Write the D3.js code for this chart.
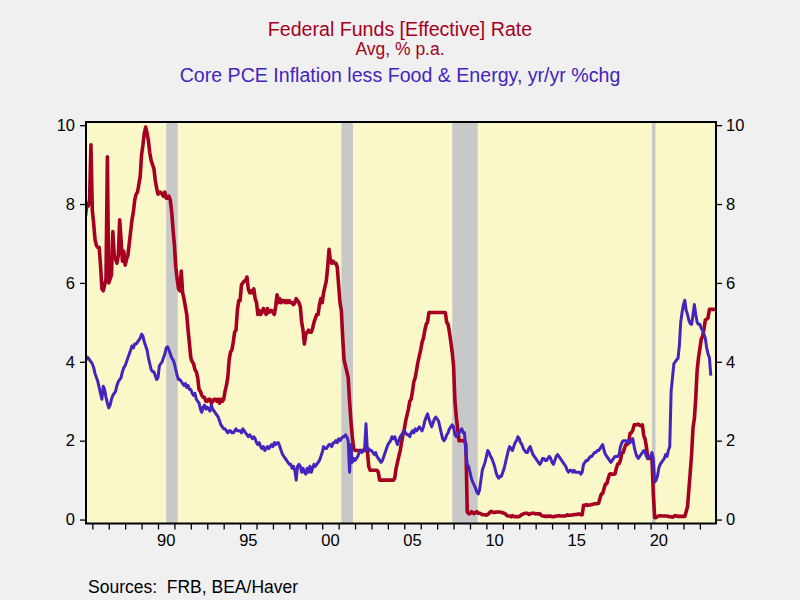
<!DOCTYPE html>
<html><head><meta charset="utf-8">
<script src="https://cdn.jsdelivr.net/npm/d3@7"></script>
<style>body{margin:0;background:#f0f0f0}svg{display:block}</style>
</head><body><svg id="c" width="800" height="600"></svg>
<script>
// Monthly data starting Aug 1985
const startYear = 1985, startMonth = 8;
const ffr = [
 7.7, 8.0, 7.95, 8.1, 9.5,
 7.84, 7.5, 7.1, 6.95, 6.9, 6.9, 6.45, 5.85, 5.8, 5.95, 6.1, 9.2,
 6.0, 6.1, 6.2, 7.3, 6.7, 6.6, 6.5, 6.7, 7.6, 7.1, 6.55, 6.8,
 6.45, 6.6, 6.7, 7.0, 7.3, 7.6, 7.8, 8.1, 8.25, 8.3, 8.5, 8.7,
 9.25, 9.5, 9.8, 9.95, 9.8, 9.6, 9.3, 9.1, 9.0, 8.9, 8.6, 8.4,
 8.25, 8.3, 8.3, 8.25, 8.2, 8.3, 8.15, 8.15, 8.2, 8.1, 7.8, 7.35,
 6.95, 6.4, 6.1, 5.85, 5.8, 6.3, 5.75, 5.6, 5.4, 5.2, 4.8, 4.45,
 4.1, 4.0, 3.95, 3.8, 3.75, 3.6, 3.3, 3.25, 3.15, 3.1, 3.1, 3.0,
 3.0, 3.05, 3.05, 2.95, 3.0, 3.05, 3.05, 3.0, 3.05, 2.95, 3.05, 3.0,
 3.05, 3.25, 3.4, 3.6, 4.05, 4.25, 4.3, 4.5, 4.75, 4.8, 5.3, 5.55,
 5.55, 5.95, 6.0, 6.05, 6.05, 6.15, 5.85, 5.75, 5.8, 5.75, 5.85, 5.6,
 5.5, 5.2, 5.3, 5.2, 5.25, 5.35, 5.3, 5.2, 5.35, 5.25, 5.3, 5.3,
 5.25, 5.2, 5.4, 5.7, 5.5, 5.6, 5.5, 5.55, 5.55, 5.5, 5.55, 5.5,
 5.55, 5.5, 5.5, 5.45, 5.5, 5.6, 5.55, 5.5, 5.4, 5.0, 4.8, 4.45,
 4.7, 4.75, 4.8, 4.75, 4.75, 4.85, 5.0, 5.1, 5.2, 5.2, 5.45, 5.6,
 5.5, 5.75, 5.9, 6.05, 6.4, 6.85, 6.55, 6.5, 6.55, 6.5, 6.5, 6.4,
 5.95, 5.5, 5.3, 4.6, 4.05, 3.9, 3.75, 3.6, 3.0, 2.5, 2.1, 1.8,
 1.75, 1.75, 1.75, 1.75, 1.75, 1.75, 1.75, 1.75, 1.75, 1.75, 1.35, 1.25,
 1.25, 1.25, 1.25, 1.25, 1.25, 1.2, 1.0, 1.0, 1.0, 1.0, 1.0, 1.0,
 1.0, 1.0, 1.0, 1.0, 1.0, 1.05, 1.3, 1.45, 1.6, 1.75, 1.95, 2.15,
 2.3, 2.5, 2.65, 2.8, 3.0, 3.05, 3.25, 3.5, 3.6, 3.8, 4.0, 4.15,
 4.3, 4.5, 4.6, 4.8, 4.95, 5.0, 5.25, 5.25, 5.25, 5.25, 5.25, 5.25,
 5.25, 5.25, 5.25, 5.25, 5.25, 5.25, 5.25, 5.0, 4.95, 4.75, 4.5, 4.25,
 3.9, 3.0, 2.6, 2.3, 2.0, 2.0, 2.0, 2.0, 2.0, 1.9, 0.2, 0.15,
 0.15, 0.2, 0.18, 0.15, 0.18, 0.2, 0.16, 0.16, 0.15, 0.12, 0.12, 0.12,
 0.11, 0.13, 0.16, 0.2, 0.2, 0.18, 0.18, 0.19, 0.19, 0.19, 0.19, 0.18,
 0.17, 0.16, 0.14, 0.1, 0.09, 0.09, 0.07, 0.1, 0.08, 0.07, 0.08, 0.07,
 0.08, 0.1, 0.13, 0.14, 0.16, 0.16, 0.16, 0.13, 0.14, 0.16, 0.16, 0.16,
 0.14, 0.15, 0.14, 0.15, 0.11, 0.09, 0.09, 0.08, 0.08, 0.09, 0.08, 0.09,
 0.07, 0.07, 0.08, 0.09, 0.09, 0.1, 0.09, 0.09, 0.09, 0.09, 0.09, 0.12,
 0.11, 0.11, 0.11, 0.12, 0.12, 0.13, 0.13, 0.14, 0.14, 0.12, 0.12, 0.36,
 0.36, 0.38, 0.36, 0.37, 0.37, 0.38, 0.39, 0.4, 0.4, 0.4, 0.41, 0.54,
 0.65, 0.66, 0.79, 0.9, 0.91, 1.04, 1.15, 1.16, 1.15, 1.15, 1.16, 1.3,
 1.41, 1.42, 1.51, 1.69, 1.7, 1.82, 1.91, 1.91, 1.95, 2.19, 2.2, 2.27,
 2.4, 2.4, 2.41, 2.42, 2.39, 2.38, 2.4, 2.13, 2.04, 1.83, 1.55, 1.55,
 1.55, 1.58, 0.65, 0.05, 0.05, 0.08, 0.09, 0.1, 0.09, 0.09, 0.09, 0.09,
 0.09, 0.08, 0.07, 0.07, 0.06, 0.08, 0.1, 0.09, 0.08, 0.08, 0.08, 0.08,
 0.08, 0.08, 0.2, 0.33, 0.77, 1.21, 1.68, 2.33, 2.56, 3.08, 3.78, 4.1,
 4.33, 4.57, 4.65, 4.83, 5.06, 5.08, 5.12, 5.33, 5.33, 5.33, 5.33, 5.33
];
const pce = [
 4.0, 4.12, 4.1, 4.05, 4.0,
 3.95, 3.85, 3.7, 3.6, 3.5, 3.35, 3.2, 3.05, 3.38, 3.3, 3.1, 2.95,
 2.83, 2.9, 3.05, 3.15, 3.2, 3.25, 3.4, 3.5, 3.55, 3.6, 3.75, 3.85,
 3.9, 4.0, 4.1, 4.2, 4.3, 4.4, 4.35, 4.45, 4.45, 4.5, 4.55, 4.6,
 4.7, 4.65, 4.5, 4.4, 4.3, 4.1, 3.95, 3.8, 3.75, 3.75, 3.65, 3.55,
 3.6, 3.9, 3.95, 4.0, 4.1, 4.2, 4.35, 4.38, 4.3, 4.2, 4.1, 4.05,
 3.95, 3.8, 3.65, 3.55, 3.55, 3.5, 3.45, 3.4, 3.45, 3.35, 3.4, 3.3,
 3.3, 3.2, 3.15, 3.2, 3.05, 3.0, 2.95, 2.8, 2.72, 2.85, 2.9, 2.8,
 2.85, 2.8, 2.75, 2.9, 2.8, 2.75, 2.7, 2.65, 2.6, 2.5, 2.4, 2.35,
 2.3, 2.3, 2.25, 2.2, 2.25, 2.25, 2.2, 2.2, 2.25, 2.3, 2.25, 2.25,
 2.25, 2.2, 2.3, 2.25, 2.2, 2.15, 2.1, 2.15, 2.1, 2.05, 2.1, 2.05,
 1.95, 1.9, 1.95, 1.85, 1.8, 1.85, 1.75, 1.8, 1.85, 1.8, 1.85, 1.9,
 1.85, 1.95, 1.9, 1.95, 1.95, 1.85, 1.75, 1.65, 1.6, 1.55, 1.5, 1.45,
 1.4, 1.4, 1.3, 1.35, 1.25, 1.0, 1.35, 1.4, 1.35, 1.2, 1.3, 1.2,
 1.15, 1.3, 1.2, 1.35, 1.2, 1.3, 1.4, 1.35, 1.4, 1.45, 1.5, 1.6,
 1.7, 1.85, 1.8, 1.8, 1.85, 1.9, 1.9, 1.85, 1.95, 1.95, 2.0, 1.95,
 2.05, 2.0, 2.05, 2.1, 2.1, 2.15, 2.1, 2.0, 1.2, 1.9, 1.45, 1.55,
 1.5, 1.55, 1.6, 1.7, 1.75, 1.7, 1.75, 1.8, 2.43, 1.75, 1.8, 1.75,
 1.75, 1.7, 1.65, 1.7, 1.6, 1.55, 1.5, 1.45, 1.5, 1.6, 1.7, 1.8,
 1.9, 1.95, 2.0, 2.1, 2.05, 2.1, 2.0, 1.9, 2.0, 2.1, 2.15, 2.2,
 2.25, 2.2, 2.15, 2.15, 2.1, 2.2, 2.25, 2.2, 2.3, 2.25, 2.3, 2.35,
 2.3, 2.25, 2.35, 2.5, 2.6, 2.68, 2.55, 2.45, 2.35, 2.45, 2.55, 2.6,
 2.55, 2.5, 2.35, 2.2, 2.05, 2.0, 2.05, 2.15, 2.2, 2.3, 2.35, 2.4,
 2.35, 2.15, 2.1, 2.15, 2.2, 2.25, 2.3, 2.2, 2.2, 1.7, 1.4, 1.35,
 1.2, 1.05, 0.95, 0.88, 0.8, 0.7, 0.65, 0.75, 1.0, 1.25, 1.35, 1.45,
 1.6, 1.75, 1.7, 1.6, 1.55, 1.45, 1.35, 1.2, 1.1, 1.05, 1.1, 1.1,
 1.2, 1.3, 1.45, 1.6, 1.75, 1.85, 1.8, 1.75, 1.85, 1.95, 2.0, 2.1,
 2.05, 1.95, 1.9, 1.8, 1.75, 1.7, 1.7, 1.8, 1.85, 1.75, 1.65, 1.6,
 1.55, 1.5, 1.45, 1.4, 1.45, 1.55, 1.55, 1.5, 1.5, 1.55, 1.6, 1.55,
 1.45, 1.4, 1.5, 1.6, 1.65, 1.6, 1.55, 1.5, 1.45, 1.4, 1.35, 1.25,
 1.2, 1.25, 1.25, 1.2, 1.25, 1.2, 1.2, 1.2, 1.2, 1.15, 1.2, 1.4,
 1.45, 1.5, 1.5, 1.55, 1.6, 1.6, 1.65, 1.7, 1.7, 1.75, 1.75, 1.8,
 1.85, 1.9, 1.75, 1.65, 1.6, 1.55, 1.5, 1.45, 1.5, 1.55, 1.6, 1.6,
 1.6, 1.65, 1.85, 1.95, 2.0, 2.0, 2.0, 1.95, 2.0, 1.95, 2.0, 2.05,
 1.85, 1.7, 1.6, 1.55, 1.6, 1.65, 1.7, 1.75, 1.7, 1.6, 1.55, 1.6,
 1.6, 1.7, 1.55, 0.95, 1.0, 1.1, 1.3, 1.4, 1.45, 1.5, 1.55, 1.65,
 1.6, 1.75, 1.85, 3.25, 3.6, 3.95, 4.0, 4.05, 4.08, 4.4, 5.0, 5.25,
 5.45, 5.56, 5.3, 5.2, 5.05, 4.97, 4.95, 5.2, 5.45, 5.2, 5.0, 4.95,
 4.95, 4.85, 4.8, 4.7, 4.6, 4.35, 4.2, 4.1, 3.65
];
const recStart = [1990.5, 2001.17, 2007.92, 2020.08];
const recEnd   = [1991.2, 2001.87, 2009.47, 2020.3];
const yTicks = [0, 2, 4, 6, 8, 10];
const xLabelYears = [1990, 1995, 2000, 2005, 2010, 2015, 2020];
const xLabels = ["90", "95", "00", "05", "10", "15", "20"];
const titleLines = ["Federal Funds [Effective] Rate", "Avg, % p.a.", "Core PCE Inflation less Food & Energy, yr/yr %chg"];
const sourceText = "Sources:  FRB, BEA/Haver";

const RED = "#a50021", BLUE = "#4424bc";
const FONT = "'Liberation Sans', Arial, Helvetica, sans-serif";
const svg = d3.select("#c");
const L = 86, R = 716, T = 122, B = 523.5;
const x = d3.scaleLinear().domain([1985.615, 2023.983]).range([L, R]);
const y = d3.scaleLinear().domain([-0.1, 10.08]).range([B, T]);
const dateOf = i => startYear + (startMonth - 1 + i) / 12;

svg.append("rect").attr("width", 800).attr("height", 600).attr("fill", "#f0f0f0");
svg.append("defs").append("clipPath").attr("id", "clip")
  .append("rect").attr("x", L).attr("y", T).attr("width", R - L).attr("height", B - T);
svg.append("rect").attr("x", L).attr("y", T).attr("width", R - L).attr("height", B - T).attr("fill", "#faf8c8");

const g = svg.append("g").attr("clip-path", "url(#clip)");
g.selectAll("rect.rec").data(recStart).enter().append("rect").attr("class", "rec")
  .attr("x", (d, i) => x(d)).attr("y", T)
  .attr("width", (d, i) => x(recEnd[i]) - x(d)).attr("height", B - T)
  .attr("fill", "#c8c8c8");

const line = d3.line().x((d, i) => x(dateOf(i))).y(d => y(d));
g.append("path").datum(ffr).attr("d", line).attr("fill", "none")
  .attr("stroke", RED).attr("stroke-width", 3.6).attr("stroke-linejoin", "round");
g.append("path").datum(pce).attr("d", line).attr("fill", "none")
  .attr("stroke", BLUE).attr("stroke-width", 3).attr("stroke-linejoin", "round");

// axes
const yl = d3.axisLeft(y).tickValues(yTicks).tickSize(6).tickFormat(d3.format("d"));
const yr = d3.axisRight(y).tickValues(yTicks).tickSize(6).tickFormat(d3.format("d"));
const yearTicks = d3.range(1986, 2024);
const xb = d3.axisBottom(x).tickValues(yearTicks).tickSize(6).tickFormat("");
function styleAxis(sel) {
  sel.select(".domain").remove();
  sel.selectAll(".tick line").attr("stroke", "#000").attr("stroke-width", 1.3);
  sel.selectAll(".tick text").attr("font-family", FONT).attr("font-size", 16.5).attr("fill", "#000");
}
svg.append("g").attr("transform", `translate(${L},0)`).call(yl).call(styleAxis)
  .selectAll(".tick text").attr("x", -11);
svg.append("g").attr("transform", `translate(${R},0)`).call(yr).call(styleAxis)
  .selectAll(".tick text").attr("x", 10);
svg.append("g").attr("transform", `translate(0,${B})`).call(xb).call(styleAxis);

svg.append("g").selectAll("text").data(xLabelYears).enter().append("text")
  .attr("x", d => x(d + 0.5)).attr("y", 546).attr("text-anchor", "middle")
  .attr("font-family", FONT).attr("font-size", 16.5).attr("fill", "#000")
  .text((d, i) => xLabels[i]);

// frame
svg.append("rect").attr("x", L).attr("y", T).attr("width", R - L).attr("height", B - T)
  .attr("fill", "none").attr("stroke", "#000").attr("stroke-width", 2);

// titles
const tt = [{t: titleLines[0], y: 36, s: 19.6, c: RED}, {t: titleLines[1], y: 55, s: 17.5, c: RED}, {t: titleLines[2], y: 81.5, s: 19.6, c: BLUE}];
svg.selectAll("text.title").data(tt).enter().append("text").attr("class", "title")
  .attr("x", 400).attr("y", d => d.y).attr("text-anchor", "middle")
  .attr("font-family", FONT).attr("font-size", d => d.s).attr("fill", d => d.c).text(d => d.t);
svg.append("text").attr("x", 88).attr("y", 593).attr("font-family", FONT).attr("font-size", 17.5)
  .attr("fill", "#000").attr("xml:space", "preserve").style("white-space", "pre").text(sourceText);
</script></body></html>
